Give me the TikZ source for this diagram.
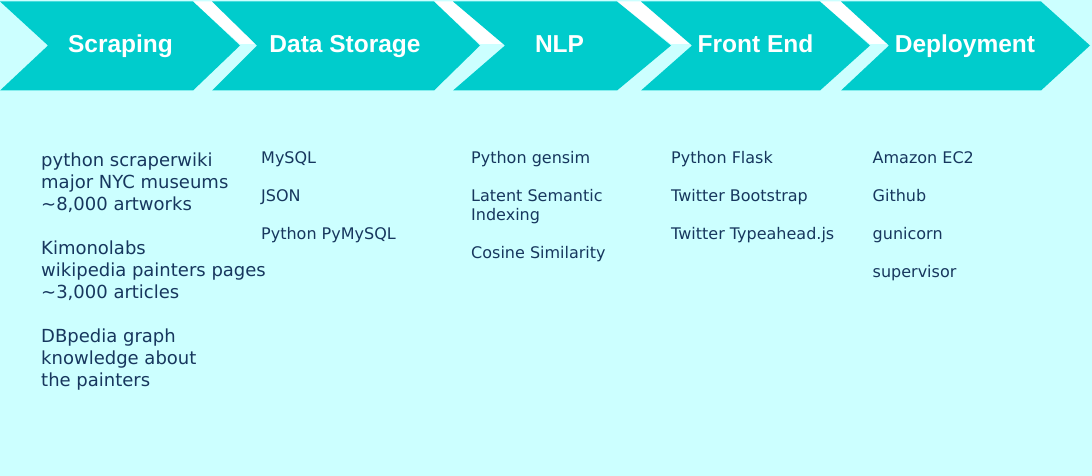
\documentclass[tikz,border=0pt]{standalone}
\usepackage{fontspec}
\setmainfont{DejaVu Sans}
\newfontfamily\headfont{Liberation Sans}
\usetikzlibrary{positioning}
\definecolor{bgcyan}{HTML}{CCFFFF}
\definecolor{stepteal}{HTML}{00CCCC}
\definecolor{bodynavy}{HTML}{17375E}

\begin{document}
\begin{tikzpicture}[
    x=1pt, y=-1pt,
    chevron/.style  ={fill=stepteal},
    gap_band/.style ={fill=white},
    head/.style     ={anchor=base, text=white, inner sep=0pt, font=\headfont\bfseries\fontsize{24.5}{28}\selectfont},
    item_big/.style ={anchor=base west, align=left, text=bodynavy, inner sep=0pt, font=\fontsize{18}{22}\selectfont},
    item/.style     ={anchor=base west, align=left, text=bodynavy, inner sep=0pt, font=\fontsize{16}{19}\selectfont}
]

% Background
\fill[bgcyan] (0,0) rectangle (1092,476);
\useasboundingbox (0,0) rectangle (1092,476);

% White bands between the steps
\foreach \a/\b/\c/\d in {193/212/257/240, 434/453/505/480, 617/641/692/671, 820/841/889/870}
    \fill[gap_band] (\a,1.5) -- (\b,1.5) -- (\c,44) -- (\d,44) -- cycle;

% Chevrons (left, notch, top right, tip)
\foreach \l/\n/\r/\t in {0/48/193/240, 212/257/434/480, 453/505/617/671, 641/692/820/870, 841/889/1041/1090}
    \fill[chevron] (\l,1.5) -- (\r,1.5) -- (\t,45.5) -- (\r,90.5) -- (\l,90.5) -- (\n,45.5) -- cycle;

% Step titles
\node[head] (scraping) at (120.5,52.5) {Scraping};
\node[head] (storage)  at (345,52.5)   {Data Storage};
\node[head] (nlp)      at (559.5,52.5) {NLP};
\node[head] (frontend) at (755.5,52.5) {Front End};
\node[head] (deploy)   at (965,52.5)   {Deployment};

% Tools per step (anchored at the last baseline)
\node[item_big] (scraping_tools) at (41,386.5) {
    python scraperwiki\\major NYC museums\\\textasciitilde 8,000 artworks\\[22pt]
    Kimonolabs\\wikipedia painters pages\\\textasciitilde 3,000 articles\\[22pt]
    DBpedia graph\\knowledge about\\the painters};
\node[item] (storage_tools)  at (261,239) {MySQL\\[19pt]JSON\\[19pt]Python PyMySQL};
\node[item] (nlp_tools)      at (471,258) {Python gensim\\[19pt]Latent Semantic\\Indexing\\[19pt]Cosine Similarity};
\node[item] (frontend_tools) at (671,239) {Python Flask\\[19pt]Twitter Bootstrap\\[19pt]Twitter Typeahead.js};
\node[item] (deploy_tools)   at (872.5,277) {Amazon EC2\\[19pt]Github\\[19pt]gunicorn\\[19pt]supervisor};

\end{tikzpicture}
\end{document}
